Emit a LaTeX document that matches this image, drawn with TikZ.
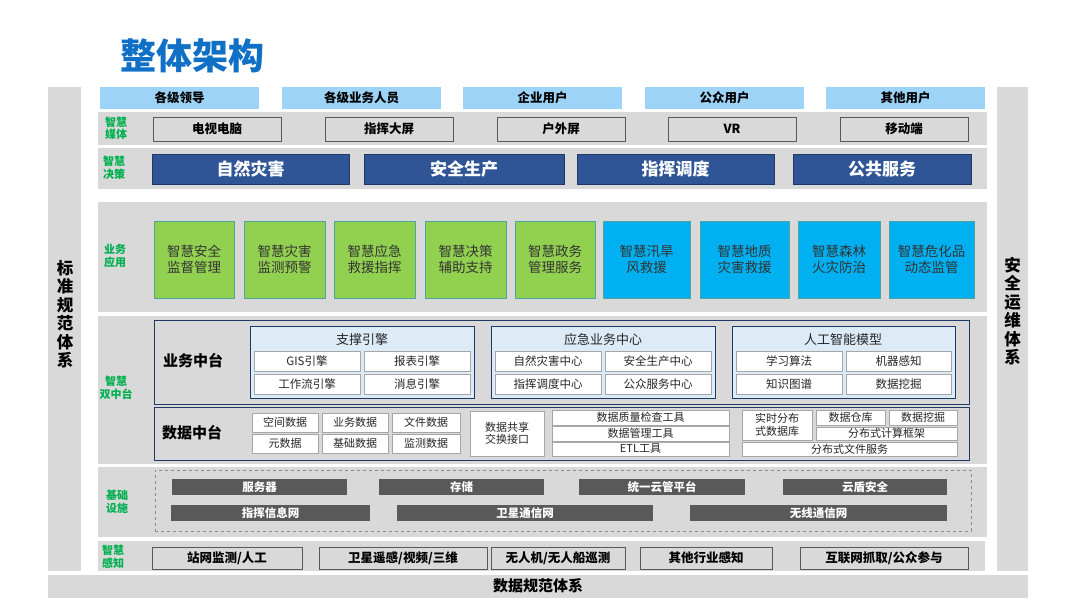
\documentclass[tikz,border=0pt]{standalone}
\usepackage{fontspec}
\setmainfont{Noto Sans CJK SC}
\definecolor{bandgray}{HTML}{D9D9D9}
\definecolor{userblue}{HTML}{9DD3F7}
\definecolor{navy}{HTML}{2F5597}
\definecolor{navyd}{HTML}{1F3864}
\definecolor{appgreen}{HTML}{92D050}
\definecolor{appblue}{HTML}{00B0F0}
\definecolor{appedge}{HTML}{4FA3A0}
\definecolor{lblgreen}{HTML}{00B050}
\definecolor{titleblue}{HTML}{0F70C6}
\definecolor{barg}{HTML}{595959}
\definecolor{lightb}{HTML}{DDEBF7}
\newcommand\nb[7]{\node[#1,minimum width={(#4)-(#2)},minimum height={(#5)-(#3)}] (#6) at ({((#2)+(#4))/2},{((#3)+(#5))/2}) {#7};}
\tikzset{
  base/.style={inner sep=0pt,outer sep=0pt,align=center,text=black},
  user/.style={base,fill=userblue,font=\bfseries\fontsize{12.5}{14}\selectfont},
  media/.style={base,fill=bandgray,draw=barg,line width=0.9pt,font=\bfseries\fontsize{12.5}{14}\selectfont},
  dec/.style={base,fill=navy,draw=navyd,line width=0.6pt,text=white,font=\bfseries\fontsize{17}{20}\selectfont},
  appg/.style={base,fill=appgreen,draw=appedge,line width=0.6pt,text=black!80,font=\fontsize{13.5}{16}\selectfont},
  appb/.style={appg,fill=appblue},
  band/.style={fill=bandgray,draw=none},
  lbl/.style={base,text=lblgreen,font=\bfseries\fontsize{11}{12.5}\selectfont},
  mid/.style={base,fill=bandgray,draw=navyd,line width=1pt},
  grp/.style={base,fill=lightb,draw=navyd,line width=1pt},
  cell/.style={base,fill=white,draw=black!35,line width=0.5pt,text=black!85,font=\fontsize{11.5}{13}\selectfont},
  dcell/.style={cell,font=\fontsize{11}{12.5}\selectfont},
  bar/.style={base,fill=barg,text=white,font=\bfseries\fontsize{11.5}{13}\selectfont},
  vert/.style={base,font=\bfseries\fontsize{16.5}{18.5}\selectfont},
  midlbl/.style={base,font=\bfseries\fontsize{15}{17}\selectfont},
  grptitle/.style={base,text=black!85,font=\fontsize{13}{15}\selectfont},
}
\begin{document}
\begin{tikzpicture}[x=1pt,y=-1pt]
\path[use as bounding box,fill=white] (0,0) rectangle (1080,608);
% title
\node[base,text=titleblue,font=\bfseries\fontsize{36}{40}\selectfont] (title) at (192.5,56) {整体架构};
% side columns and bottom bar
\nb{band}{48}{87}{81}{571}{lcol}{}
\nb{band}{997}{87}{1028}{571}{rcol}{}
\node[vert] (ltxt) at (65,314) {标\\准\\规\\范\\体\\系};
\node[vert] (rtxt) at (1012.5,311) {安\\全\\运\\维\\体\\系};
\nb{band}{48}{575}{1028}{598}{bbar}{}
\node[base,font=\bfseries\fontsize{15}{17}\selectfont] (btxt) at (538,586) {数据规范体系};
% bands
\nb{band}{98}{112}{987}{145}{bmedia}{}
\nb{band}{98}{148}{987}{189}{bdec}{}
\nb{band}{98}{202}{987}{312}{bapp}{}
\nb{band}{98}{316}{987}{464}{bmid}{}
\nb{band}{98}{467}{987}{537}{binf}{}
\nb{band}{98}{541}{985}{571}{bsen}{}
% labels
\node[lbl] (lmedia) at (116,128.5) {智慧\\媒体};
\node[lbl] (ldec) at (114,168) {智慧\\决策};
\node[lbl] (lapp) at (115,256) {业务\\应用};
\node[lbl] (lmid) at (116,388) {智慧\\双中台};
\node[lbl] (linf) at (117,502) {基础\\设施};
\node[lbl] (lsen) at (113,557) {智慧\\感知};
% users
\nb{user}{100}{87}{259}{109}{u1}{各级领导}
\nb{user}{282}{87}{441}{109}{u2}{各级业务人员}
\nb{user}{463}{87}{622}{109}{u3}{企业用户}
\nb{user}{645}{87}{804}{109}{u4}{公众用户}
\nb{user}{826}{87}{985}{109}{u5}{其他用户}
% media
\nb{media}{153}{117}{281}{141}{m1}{电视电脑}
\nb{media}{325}{117}{453}{141}{m2}{指挥大屏}
\nb{media}{497}{117}{625}{141}{m3}{户外屏}
\nb{media}{668}{117}{796}{141}{m4}{VR}
\nb{media}{840}{117}{968}{141}{m5}{移动端}
% decision
\nb{dec}{152}{154}{349}{184}{d1}{自然灾害}
\nb{dec}{364}{154}{564}{184}{d2}{安全生产}
\nb{dec}{577}{154}{774}{184}{d3}{指挥调度}
\nb{dec}{793}{154}{971}{184}{d4}{公共服务}
% apps
\nb{appg}{154}{221}{234}{298}{a1}{智慧安全\\监督管理}
\nb{appg}{244}{221}{325}{298}{a2}{智慧灾害\\监测预警}
\nb{appg}{334}{221}{415}{298}{a3}{智慧应急\\救援指挥}
\nb{appg}{425}{221}{506}{298}{a4}{智慧决策\\辅助支持}
\nb{appg}{515}{221}{595}{298}{a5}{智慧政务\\管理服务}
\nb{appb}{603}{221}{690}{298}{a6}{智慧汛旱\\风救援}
\nb{appb}{700}{221}{789}{298}{a7}{智慧地质\\灾害救援}
\nb{appb}{798}{221}{880}{298}{a8}{智慧森林\\火灾防治}
\nb{appb}{889}{221}{974}{298}{a9}{智慧危化品\\动态监管}
% business middle platform
\nb{mid}{154}{320}{969}{404}{ywzt}{}
\node[midlbl] (ywlbl) at (193,361) {业务中台};
\nb{grp}{250}{326}{474}{398}{g1}{}
\node[grptitle] (g1t) at (362,340) {支撑引擎};
\nb{cell}{254}{351}{360}{371}{c11}{GIS引擎}
\nb{cell}{364}{351}{470}{371}{c12}{报表引擎}
\nb{cell}{254}{374}{360}{394}{c13}{工作流引擎}
\nb{cell}{364}{374}{470}{394}{c14}{消息引擎}
\nb{grp}{491}{326}{715}{398}{g2}{}
\node[grptitle] (g2t) at (603,340) {应急业务中心};
\nb{cell}{495}{351}{601}{371}{c21}{自然灾害中心}
\nb{cell}{605}{351}{711}{371}{c22}{安全生产中心}
\nb{cell}{495}{374}{601}{394}{c23}{指挥调度中心}
\nb{cell}{605}{374}{711}{394}{c24}{公众服务中心}
\nb{grp}{732}{326}{955}{398}{g3}{}
\node[grptitle] (g3t) at (843,340) {人工智能模型};
\nb{cell}{736}{351}{842}{371}{c31}{学习算法}
\nb{cell}{846}{351}{951}{371}{c32}{机器感知}
\nb{cell}{736}{374}{842}{394}{c33}{知识图谱}
\nb{cell}{846}{374}{951}{394}{c34}{数据挖掘}
% data middle platform
\nb{mid}{154}{407}{969}{460}{sjzt}{}
\node[midlbl] (sjlbl) at (192,433) {数据中台};
\nb{dcell}{252}{413}{318}{432}{e1}{空间数据}
\nb{dcell}{322}{413}{388}{432}{e2}{业务数据}
\nb{dcell}{392}{413}{460}{432}{e3}{文件数据}
\nb{dcell}{252}{434}{318}{453}{e4}{元数据}
\nb{dcell}{322}{434}{388}{453}{e5}{基础数据}
\nb{dcell}{392}{434}{460}{453}{e6}{监测数据}
\nb{dcell,align=left}{470}{411}{544}{456}{share}{数据共享\\交换接口}
\nb{dcell}{552}{410}{729}{425}{t1}{数据质量检查工具}
\nb{dcell}{552}{426}{729}{441}{t2}{数据管理工具}
\nb{dcell}{552}{442}{729}{456}{t3}{ETL工具}
\nb{dcell,align=left}{742}{410}{812}{440}{r1}{实时分布\\式数据库}
\nb{dcell}{816}{410}{885}{425}{r2}{数据仓库}
\nb{dcell}{889}{410}{957}{425}{r3}{数据挖掘}
\nb{dcell}{816}{427}{957}{440}{r4}{分布式计算框架}
\nb{dcell}{742}{442}{957}{456}{r5}{分布式文件服务}
% infrastructure
\nb{base,draw=black!45,dashed,line width=0.8pt}{155}{470}{971}{531}{dash}{}
\nb{bar}{172}{479}{347}{495}{i1}{服务器}
\nb{bar}{379}{479}{544}{495}{i2}{存储}
\nb{bar}{579}{479}{745}{495}{i3}{统一云管平台}
\nb{bar}{783}{479}{947}{495}{i4}{云盾安全}
\nb{bar}{171}{505}{370}{521}{i5}{指挥信息网}
\nb{bar}{397}{505}{653}{521}{i6}{卫星通信网}
\nb{bar}{690}{505}{947}{521}{i7}{无线通信网}
% sensing
\nb{media}{152}{547}{302}{569}{s1}{站网监测/人工}
\nb{media}{319}{547}{487}{569}{s2}{卫星遥感/视频/三维}
\nb{media}{491}{547}{625}{569}{s3}{无人机/无人船巡测}
\nb{media}{640}{547}{772}{569}{s4}{其他行业感知}
\nb{media}{800}{547}{968}{569}{s5}{互联网抓取/公众参与}
\end{tikzpicture}
\end{document}
